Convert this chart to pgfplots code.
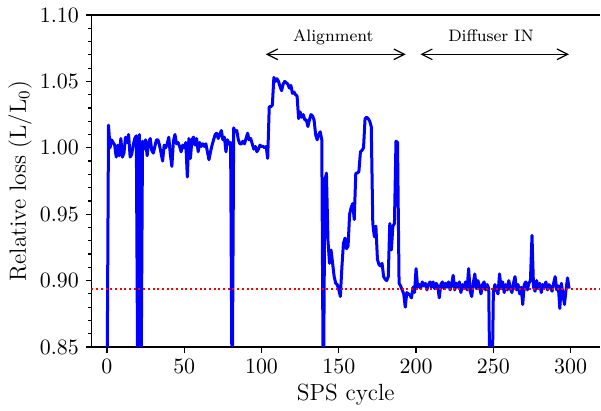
\documentclass[border=0pt]{standalone}
\usepackage{pgfplots}
\pgfplotsset{compat=1.18}
\usepackage{pgfplotstable}
\usetikzlibrary{arrows.meta}
\pgfplotstableread{
x y
0 0.80
1 1.017
2 1.000
3 1.006
4 1.004
5 1.002
6 0.993
7 1.002
8 0.994
9 1.007
10 0.993
11 0.996
12 1.008
13 1.004
14 1.010
15 0.993
16 0.995
17 1.002
18 1.007
19 1.009
20 0.80
21 1.010
22 0.80
23 1.005
24 0.999
25 1.006
26 0.994
27 1.004
28 1.007
29 0.998
30 0.996
31 1.001
32 1.006
33 1.006
34 1.002
35 0.996
36 0.990
37 1.002
38 1.000
39 1.003
40 1.008
41 0.995
42 0.986
43 1.005
44 1.010
45 1.003
46 1.004
47 1.001
48 0.997
49 1.002
50 1.000
51 1.004
52 0.978
53 1.007
54 0.992
55 1.006
56 1.008
57 1.002
58 1.007
59 0.997
60 1.004
61 1.001
62 1.003
63 1.001
64 1.003
65 0.997
66 0.991
67 0.997
68 1.002
69 1.006
70 1.010
71 1.011
72 1.007
73 1.010
74 1.013
75 1.006
76 1.008
77 0.997
78 1.006
79 1.003
80 1.004
81 0.80
82 1.015
83 1.012
84 1.013
85 1.006
86 1.003
87 1.003
88 1.005
89 1.003
90 1.007
91 1.011
92 1.006
93 1.007
94 1.003
95 0.999
96 1.001
97 0.997
98 0.999
99 1.002
100 1.001
101 1.001
102 1.000
103 1.001
104 0.992
105 1.031
106 1.031
107 1.032
108 1.053
109 1.050
110 1.052
111 1.050
112 1.046
113 1.043
114 1.048
115 1.050
116 1.049
117 1.048
118 1.045
119 1.047
120 1.041
121 1.042
122 1.040
123 1.039
124 1.022
125 1.027
126 1.023
127 1.025
128 1.021
129 1.021
130 1.016
131 1.021
132 1.025
133 1.024
134 1.021
135 1.010
136 1.006
137 1.010
138 1.012
139 1.006
140 0.80
141 0.975
142 0.981
143 0.930
144 0.913
145 0.923
146 0.913
147 0.903
148 0.898
149 0.897
150 0.893
151 0.888
152 0.910
153 0.928
154 0.932
155 0.924
156 0.926
157 0.950
158 0.955
159 0.958
160 0.946
161 0.981
162 0.981
163 0.982
164 0.997
165 0.998
166 1.000
167 1.022
168 1.023
169 1.022
170 1.020
171 1.016
172 0.943
173 0.933
174 0.941
175 0.916
176 0.912
177 0.911
178 0.913
179 0.903
180 0.901
181 0.900
182 0.903
183 0.943
184 0.923
185 0.941
186 0.943
187 1.005
188 1.004
189 0.898
190 0.896
191 0.893
192 0.890
193 0.880
194 0.891
195 0.890
196 0.889
197 0.887
198 0.895
199 0.891
200 0.909
201 0.895
202 0.897
203 0.894
204 0.899
205 0.896
206 0.898
207 0.893
208 0.897
209 0.899
210 0.895
211 0.899
212 0.894
213 0.898
214 0.896
215 0.887
216 0.897
217 0.899
218 0.894
219 0.898
220 0.895
221 0.899
222 0.893
223 0.897
224 0.904
225 0.893
226 0.898
227 0.895
228 0.899
229 0.891
230 0.897
231 0.894
232 0.899
233 0.893
234 0.909
235 0.892
236 0.888
237 0.898
238 0.905
239 0.894
240 0.900
241 0.896
242 0.890
243 0.897
244 0.899
245 0.893
246 0.897
247 0.894
248 0.80
249 0.80
250 0.891
251 0.897
252 0.893
253 0.890
254 0.905
255 0.895
256 0.899
257 0.891
258 0.897
259 0.893
260 0.900
261 0.894
262 0.891
263 0.898
264 0.903
265 0.893
266 0.897
267 0.890
268 0.895
269 0.882
270 0.897
271 0.899
272 0.893
273 0.898
274 0.900
275 0.934
276 0.895
277 0.892
278 0.900
279 0.894
280 0.898
281 0.891
282 0.897
283 0.895
284 0.899
285 0.893
286 0.897
287 0.895
288 0.892
289 0.898
290 0.903
291 0.893
292 0.896
293 0.879
294 0.898
295 0.890
296 0.882
297 0.893
298 0.902
299 0.894
}\lossdata
\begin{document}
\begin{tikzpicture}
\begin{axis}[
  scale only axis,
  width=254.25pt, height=166pt,
  xmin=-10, xmax=319, ymin=0.85, ymax=1.10,
  axis x line*=box, axis y line*=left,
  xtick={0,50,...,300},
  ytick={0.85,0.90,0.95,1.00,1.05,1.10},
  minor y tick num=4,
  xtick pos=left,
  tick align=outside,
  major tick length=2.8pt, minor tick length=1.7pt,
  axis line style={line width=0.6pt, black},
  every tick/.style={line width=0.6pt, black},
  yticklabel style={/pgf/number format/fixed, /pgf/number format/precision=2, /pgf/number format/fixed zerofill},
  tick label style={font=\fontsize{10.5}{12}\selectfont},
  label style={font=\fontsize{11.7}{13}\selectfont},
  xlabel={SPS cycle},
  ylabel={Relative loss (L/L$_0$)},
  xlabel style={at={(axis description cs:0.5,-0.145)}, anchor=center},
  ylabel style={at={(axis description cs:-0.1406,0.5)}, anchor=center},
]
\addplot[blue, line width=1.5pt, line join=round, mark=none] table[x=x, y=y] {\lossdata};
\addplot[red, line width=1pt, dash pattern=on 1pt off 1.35pt, mark=none] coordinates {(-10,0.894) (319,0.894)};
\draw[{Straight Barb[length=5.3pt,width=5.3pt]}-{Straight Barb[length=5.3pt,width=5.3pt]}, line width=0.6pt] (axis cs:102.8,1.0704) -- (axis cs:193.3,1.0704);
\draw[{Straight Barb[length=5.3pt,width=5.3pt]}-{Straight Barb[length=5.3pt,width=5.3pt]}, line width=0.6pt] (axis cs:202.8,1.0704) -- (axis cs:298.9,1.0704);
\node[anchor=base, font=\fontsize{8.3}{10}\selectfont, inner sep=0pt] at (axis cs:146.5,1.0799) {Alignment};
\node[anchor=base, font=\fontsize{8.3}{10}\selectfont, inner sep=0pt] at (axis cs:248.5,1.0799) {Diffuser IN};
\coordinate (ll) at (rel axis cs:0,0);
\coordinate (ur) at (rel axis cs:1,1);
\end{axis}
\pgfresetboundingbox
\path ([shift={(-45.75pt,-32pt)}]ll) rectangle ([shift={(0.5pt,7.5pt)}]ur);
\end{tikzpicture}
\end{document}
